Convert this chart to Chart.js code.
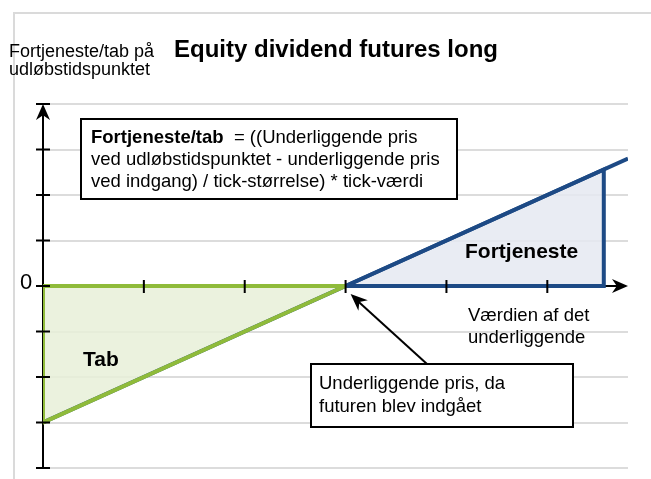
<!DOCTYPE html>
<html>
<head>
<meta charset="utf-8">
<title>Equity dividend futures long</title>
<script src="https://cdn.jsdelivr.net/npm/chart.js@4.4.1/dist/chart.umd.min.js"></script>
<style>
  html, body { margin: 0; padding: 0; background: #fff; }
  #wrap { width: 651px; height: 479px; position: relative; }
</style>
</head>
<body>
<div id="wrap"><canvas id="chart" width="651" height="479"></canvas></div>
<script>
// ===============================
// DATA
// ===============================
const xMin = 0;
const xMax = 5.8;
const yMin = -4;
const yMax = 4;

const xTicks = [1, 2, 3, 4, 5];
const yTicks = [-4, -3, -2, -1, 0, 1, 2, 3, 4];

// pay-off line of the long future
const payoffX = [0, 3, 5.8];
const payoffY = [-3, 0, 2.8];

// loss area (Tab)
const lossX = [0, 3];
const lossY = [-3, 0];
const lossEdgeX = [3, 0, 0, 3];
const lossEdgeY = [0, 0, -3, 0];

// gain area (Fortjeneste)
const gainX = [3, 5.56];
const gainY = [0, 2.56];
const gainEdgeX = [3, 5.56, 5.56, 3];
const gainEdgeY = [0, 2.56, 0, 0];

const breakEven = 3;

// ===============================
// STYLE
// ===============================
const FONT = '"Liberation Sans", Arial, sans-serif';
const NAVY = "#1d4a85";
const GREEN = "#8fbb3a";

function pts(xs, ys) {
  return xs.map((x, i) => ({ x: x, y: ys[i] }));
}

// ===============================
// HELPERS FOR THE DRAWING PLUGIN
// ===============================
function arrowHead(ctx, tx, ty, angle, len, half) {
  ctx.save();
  ctx.translate(tx, ty);
  ctx.rotate(angle);
  ctx.beginPath();
  ctx.moveTo(0, 0);
  ctx.lineTo(-len, -half);
  ctx.lineTo(-len * 0.7, 0);
  ctx.lineTo(-len, half);
  ctx.closePath();
  ctx.fill();
  ctx.restore();
}

function textBox(ctx, x, y, w, h) {
  ctx.fillStyle = "#fff";
  ctx.fillRect(x, y, w, h);
  ctx.strokeStyle = "#000";
  ctx.lineWidth = 2;
  ctx.strokeRect(x, y, w, h);
}

const decor = {
  id: "decor",
  beforeDatasetsDraw(chart) {
    const ctx = chart.ctx;
    const xs = chart.scales.x;
    const ys = chart.scales.y;
    const x0 = xs.getPixelForValue(0);
    const y0 = ys.getPixelForValue(0);

    ctx.save();
    // light frame
    ctx.strokeStyle = "#dadada";
    ctx.lineWidth = 2;
    ctx.beginPath();
    ctx.moveTo(14, 479);
    ctx.lineTo(14, 13);
    ctx.lineTo(651, 13);
    ctx.stroke();

    // axes
    ctx.strokeStyle = "#000";
    ctx.lineWidth = 2;
    ctx.beginPath();
    ctx.moveTo(x0, ys.getPixelForValue(yMin));
    ctx.lineTo(x0, ys.getPixelForValue(yMax) + 2);
    ctx.moveTo(x0, y0);
    ctx.lineTo(xs.getPixelForValue(xMax) - 2, y0);
    ctx.stroke();
    ctx.restore();
  },
  afterDatasetsDraw(chart) {
    const ctx = chart.ctx;
    const xs = chart.scales.x;
    const ys = chart.scales.y;
    const x0 = xs.getPixelForValue(0);
    const y0 = ys.getPixelForValue(0);

    ctx.save();
    ctx.strokeStyle = "#000";
    ctx.fillStyle = "#000";
    ctx.lineWidth = 2;

    // tick marks
    ctx.beginPath();
    yTicks.forEach(v => {
      const py = ys.getPixelForValue(v);
      ctx.moveTo(x0 - 7, py);
      ctx.lineTo(x0 + 7, py);
    });
    xTicks.forEach(v => {
      const px = xs.getPixelForValue(v);
      ctx.moveTo(px, y0 - 6);
      ctx.lineTo(px, y0 + 7);
    });
    ctx.stroke();

    // axis arrows
    arrowHead(ctx, x0, ys.getPixelForValue(yMax), -Math.PI / 2, 16, 7);
    arrowHead(ctx, xs.getPixelForValue(xMax), y0, 0, 16, 7);

    // titles
    ctx.textBaseline = "alphabetic";
    ctx.font = "bold 24px " + FONT;
    ctx.fillText("Equity dividend futures long", 174, 57);
    ctx.font = "18px " + FONT;
    ctx.fillText("Fortjeneste/tab på", 9, 57);
    ctx.fillText("udløbstidspunktet", 9, 75);
    ctx.font = "22px " + FONT;
    ctx.fillText("0", 20, 289);

    // formula box
    textBox(ctx, 81, 119, 376, 80);
    ctx.fillStyle = "#000";
    ctx.font = "bold 18.5px " + FONT;
    const lead = "Fortjeneste/tab";
    ctx.fillText(lead, 91, 143);
    const w = ctx.measureText(lead).width;
    ctx.font = "18.5px " + FONT;
    ctx.fillText("  = ((Underliggende pris", 91 + w, 143);
    ctx.fillText("ved udløbstidspunktet - underliggende pris", 91, 165);
    ctx.fillText("ved indgang) / tick-størrelse) * tick-værdi", 91, 187);

    // area labels
    ctx.font = "bold 21px " + FONT;
    ctx.fillText("Fortjeneste", 465, 258);
    ctx.fillText("Tab", 83, 366);

    ctx.font = "18.5px " + FONT;
    ctx.fillText("Værdien af det", 468, 321);
    ctx.fillText("underliggende", 468, 343);

    // entry price box + arrow
    const bx = xs.getPixelForValue(breakEven);
    const tipX = bx + 5;
    const tipY = y0 + 8;
    const fromX = 427;
    const fromY = 364;
    ctx.lineWidth = 2;
    ctx.beginPath();
    ctx.moveTo(fromX, fromY);
    ctx.lineTo(tipX + 6, tipY + 6);
    ctx.stroke();
    arrowHead(ctx, tipX, tipY, Math.atan2(tipY - fromY, tipX - fromX), 17, 7);

    textBox(ctx, 311, 364, 262, 63);
    ctx.fillStyle = "#000";
    ctx.font = "18.5px " + FONT;
    ctx.fillText("Underliggende pris, da", 319, 389);
    ctx.fillText("futuren blev indgået", 319, 412);
    ctx.restore();
  }
};

// ===============================
// CHART
// ===============================
const ctx = document.getElementById("chart").getContext("2d");
new Chart(ctx, {
  type: "scatter",
  data: {
    datasets: [
      {
        label: "Tab kant",
        data: pts(lossEdgeX, lossEdgeY),
        showLine: true,
        borderColor: GREEN,
        borderWidth: 4,
        borderJoinStyle: "miter",
        pointRadius: 0,
        fill: false,
        order: 0
      },
      {
        label: "Fortjeneste kant",
        data: pts(gainEdgeX, gainEdgeY),
        showLine: true,
        borderColor: NAVY,
        borderWidth: 4,
        borderJoinStyle: "miter",
        pointRadius: 0,
        fill: false,
        order: 1
      },
      {
        label: "Pay-off",
        data: pts(payoffX, payoffY),
        showLine: true,
        borderColor: NAVY,
        borderWidth: 4,
        pointRadius: 0,
        fill: false,
        order: 2
      },
      {
        label: "Tab",
        data: pts(lossX, lossY),
        showLine: true,
        borderWidth: 0,
        borderColor: "rgba(0,0,0,0)",
        backgroundColor: "rgba(232,240,216,0.85)",
        pointRadius: 0,
        fill: "origin",
        order: 3
      },
      {
        label: "Fortjeneste",
        data: pts(gainX, gainY),
        showLine: true,
        borderWidth: 0,
        borderColor: "rgba(0,0,0,0)",
        backgroundColor: "rgba(229,233,241,0.85)",
        pointRadius: 0,
        fill: "origin",
        order: 4
      }
    ]
  },
  options: {
    responsive: false,
    animation: false,
    devicePixelRatio: 1,
    layout: { padding: { left: 43, right: 23, top: 104, bottom: 11 } },
    plugins: {
      legend: { display: false },
      title: { display: false },
      tooltip: { enabled: false }
    },
    scales: {
      x: { type: "linear", min: xMin, max: xMax, display: false },
      y: {
        type: "linear",
        min: yMin,
        max: yMax,
        afterBuildTicks: s => { s.ticks = yTicks.map(v => ({ value: v })); },
        ticks: { display: false },
        border: { display: false },
        grid: {
          drawTicks: false,
          lineWidth: 2,
          color: c => (c.tick && c.tick.value === 0) ? "rgba(0,0,0,0)" : "#dcdcdc"
        }
      }
    }
  },
  plugins: [decor]
});
</script>
</body>
</html>
